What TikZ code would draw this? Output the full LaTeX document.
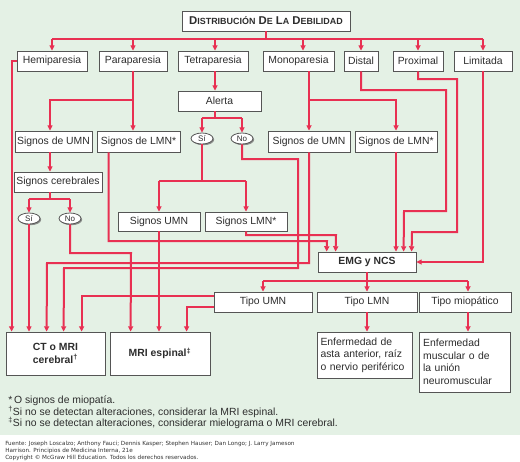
\documentclass[tikz,border=0pt]{standalone}
\usepackage{fontspec}
\setmainfont{Liberation Sans}
\newfontfamily\srcfont{DejaVu Sans}
\usetikzlibrary{arrows.meta,calc,shapes.geometric,shadows}
\definecolor{bgc}{RGB}{228,241,229}
\definecolor{lnc}{RGB}{232,48,82}
\definecolor{boxc}{RGB}{85,85,85}
\definecolor{txc}{RGB}{45,45,45}
\newcommand\lbl{\fontsize{7.8}{9.4}\selectfont}
\newcommand\tsc[1]{{\fontsize{6.7}{8}\selectfont #1}}
\newcommand\bx[7][]{%
  \pgfmathsetmacro\bxw{(#5-#3)*0.75}%
  \pgfmathsetmacro\bxh{(#6-#4)*0.75}%
  \node[box,minimum width=\bxw pt,minimum height=\bxh pt,#1] (#2) at ({(#3+#5)/2},{(#4+#6)/2}) {#7};}
\tikzset{
  box/.style={draw=boxc,fill=white,line width=0.6pt,inner sep=0pt,font=\lbl,text=txc,
    drop shadow={shadow xshift=1.1pt,shadow yshift=-1.1pt,fill=black!55,opacity=0.8}},
  oval/.style={ellipse,draw=boxc,fill=white,line width=0.6pt,inner sep=0pt,
    minimum width=16.5pt,minimum height=8.25pt,font=\fontsize{6}{7}\selectfont,text=txc,
    drop shadow={shadow xshift=0.9pt,shadow yshift=-0.9pt,fill=black!55,opacity=0.8}},
  ln/.style={draw=lnc,line width=1.5pt},
  arr/.style={ln,-{Triangle[length=4pt,width=3.8pt]}},
  note/.style={anchor=west,inner sep=0pt,font=\lbl,text=txc}
}
\begin{document}
\begin{tikzpicture}[x=0.75pt,y=-0.75pt]
\useasboundingbox (0,0) rectangle (520,461);
\fill[bgc] (0,0) rectangle (520,435);
% boxes
\bx{title}{182}{11}{350}{31}{\fontsize{8.5}{10}\selectfont\bfseries D\tsc{ISTRIBUCIÓN} D\tsc{E} L\tsc{A} D\tsc{EBILIDAD}}
\bx{hemi}{17}{51}{87}{71}{Hemiparesia}
\bx{para}{99}{51}{167}{71}{Paraparesia}
\bx{tetra}{178}{51}{248}{71}{Tetraparesia}
\bx{mono}{263}{51}{334}{71}{Monoparesia}
\bx{distal}{344}{51}{378}{71}{Distal}
\bx{prox}{393}{51}{443}{71}{Proximal}
\bx{lim}{454}{51}{512}{71}{Limitada}
\bx{alerta}{178}{91}{261}{111}{Alerta}
\bx{umnL}{15}{131}{92}{152}{Signos de UMN}
\bx{lmnL}{97}{131}{180}{152}{Signos de LMN*}
\node[oval] (siA) at (202,138.5) {Sí};
\node[oval] (noA) at (242,138.5) {No};
\bx{umnR}{268}{131}{350}{152}{Signos de UMN}
\bx{lmnR}{355}{131}{437}{152}{Signos de LMN*}
\bx{cereb}{14}{172}{102}{192}{Signos cerebrales}
\node[oval] (siB) at (29,218.5) {Sí};
\node[oval] (noB) at (70,218.5) {No};
\bx{umnM}{118}{212}{200}{231}{Signos UMN}
\bx{lmnM}{205}{212}{287}{231}{Signos LMN*}
\bx{emg}{318}{252}{416}{272}{\bfseries EMG y NCS}
\bx{tumn}{214}{292}{312}{312}{Tipo UMN}
\bx{tlmn}{317}{292}{417}{312}{Tipo LMN}
\bx{tmio}{419}{292}{511}{312}{Tipo miopático}
\bx[align=center]{ct}{6}{332}{105}{375}{\bfseries CT o MRI\\\bfseries cerebral\textsuperscript{†}}
\bx{mri}{110}{332}{210}{375}{\bfseries MRI espinal\textsuperscript{‡}}
\bx[align=left,text width=66pt]{asta}{317}{332}{412}{378}{Enfermedad de\\asta anterior, raíz\\o nervio periférico}
\bx[align=left,text width=62pt]{musc}{419}{332}{510}{392}{Enfermedad\\muscular o de\\la unión\\neuromuscular}
% junction and entry points
\coordinate (tetraIn) at ($(tetra.north)+(2,0)$);
\coordinate (monoIn) at ($(mono.north)+(4.5,0)$);
\coordinate (tmioIn) at ($(tmio.north)+(3,0)$);
\coordinate (tb) at ($(title.south)+(0,8)$);
\coordinate (alOut) at ($(alerta.south)+(-4.5,0)$);
\coordinate (ab) at ($(alerta.south)+(-4.5,7)$);
\coordinate (sb) at ($(siA.south)+(0,37)$);
\coordinate (cbOut) at ($(cereb.south)+(-8,0)$);
\coordinate (cb) at ($(cereb.south)+(-8,7)$);
\coordinate (eb) at ($(emg.south)+(0,9)$);
\coordinate (pb) at ($(para.south)+(0,29)$);
\coordinate (mOut) at ($(mono.south)+(10.5,0)$);
\coordinate (mb) at ($(mono.south)+(10.5,29)$);
% title fork
\draw[ln] (title.south) -- (tb);
\draw[ln] (hemi.north |- tb) -- (lim.north |- tb);
\draw[arr] (hemi.north |- tb) -- (hemi.north);
\draw[arr] (para.north |- tb) -- (para.north);
\draw[arr] (tetraIn |- tb) -- (tetraIn);
\draw[arr] (monoIn |- tb) -- (monoIn);
\draw[arr] (distal.north |- tb) -- (distal.north);
\draw[arr] (prox.north |- tb) -- (prox.north);
\draw[arr] (lim.north |- tb) -- (lim.north);
% hemiparesia
\draw[arr] (hemi.west) -| ($(ct.north west)+(6,0)$);
% paraparesia
\draw[arr] (para.south) -- (para.south |- lmnL.north);
\draw[arr] (pb) -| ($(umnL.north)+(-3.5,0)$);
% tetraparesia
\draw[arr] ($(tetra.south)+(2,0)$) -- ($(alerta.north)+(-4.5,0)$);
\draw[ln] (alOut) -- (ab);
\draw[ln] (siA.north |- ab) -- (noA.north |- ab);
\draw[arr] (siA.north |- ab) -- (siA.north);
\draw[arr] (noA.north |- ab) -- (noA.north);
\draw[ln] (siA.south) -- (sb);
\draw[ln] (umnM.north |- sb) -- (lmnM.north |- sb);
\draw[arr] (umnM.north |- sb) -- (umnM.north);
\draw[arr] (lmnM.north |- sb) -- (lmnM.north);
\draw[arr] (noA.south) |- (298,159) |- (64,268) -- ($(ct.north west)+(58,0)$);
% signos de UMN (left)
\draw[arr] ($(umnL.south)+(-3.5,0)$) -- ($(cereb.north)+(-8,0)$);
\draw[ln] (cbOut) -- (cb);
\draw[ln] (siB.north |- cb) -- (noB.north |- cb);
\draw[arr] (siB.north |- cb) -- (siB.north);
\draw[arr] (noB.north |- cb) -- (noB.north);
\draw[arr] (siB.south) -- (siB.south |- ct.north);
\draw[arr] (noB.south) |- (131,253) -- ($(mri.north west)+(21,0)$);
\draw[arr] ($(lmnL.south west)+(12,0)$) |- (327,241) -- ($(emg.north west)+(9,0)$);
\draw[arr] (lmnM.south) |- (336,235) -- ($(emg.north west)+(18,0)$);
\draw[arr] (umnM.south) -- (umnM.south |- mri.north);
\draw[arr] (umnR.south) |- (47,263) -- ($(ct.north west)+(41,0)$);
% monoparesia
\draw[arr] (mOut) -- (umnR.north);
\draw[arr] (mb) -| (lmnR.north);
\draw[arr] (lmnR.south) -- (lmnR.south |- emg.north);
% distal, proximal, limitada
\draw[arr] (distal.south) |- (446,90) |- (404,211) -- ($(emg.north west)+(86,0)$);
\draw[arr] (prox.south) |- (457,79) |- (412,232) -- ($(emg.north west)+(94,0)$);
\draw[arr] (lim.south) |- (emg.east);
% EMG fork
\draw[ln] (emg.south) -- (eb);
\draw[ln] (tumn.north |- eb) -- (tmioIn |- eb);
\draw[arr] (tumn.north |- eb) -- (tumn.north);
\draw[arr] (tlmn.north |- eb) -- (tlmn.north);
\draw[arr] (tmioIn |- eb) -- (tmioIn);
\draw[arr] ($(tumn.west)+(0,-6)$) -| ($(ct.north west)+(76,0)$);
\draw[arr] ($(tumn.west)+(0,5)$) -| ($(mri.north west)+(77,0)$);
\draw[arr] (tlmn.south) -- (tlmn.south |- asta.north);
\draw[arr] ($(tmio.south)+(3,0)$) -- ($(tmio.south |- musc.north)+(3,0)$);
% footnotes
\node[note] (fn1) at (8,401) {*\,O signos de miopatía.};
\node[note] (fn2) at (8,412) {\textsuperscript{†}Si no se detectan alteraciones, considerar la MRI espinal.};
\node[note] (fn3) at (8,423) {\textsuperscript{‡}Si no se detectan alteraciones, considerar mielograma o MRI cerebral.};
\node[anchor=north west,inner sep=0pt,align=left,font=\srcfont\fontsize{4.25}{4.1}\selectfont,text=black!80] (src) at (5,441)
  {Fuente: Joseph Loscalzo; Anthony Fauci; Dennis Kasper; Stephen Hauser; Dan Longo; J. Larry Jameson\\
   Harrison. Principios de Medicina Interna, 21e\\
   Copyright © McGraw Hill Education. Todos los derechos reservados.};
\end{tikzpicture}
\end{document}
